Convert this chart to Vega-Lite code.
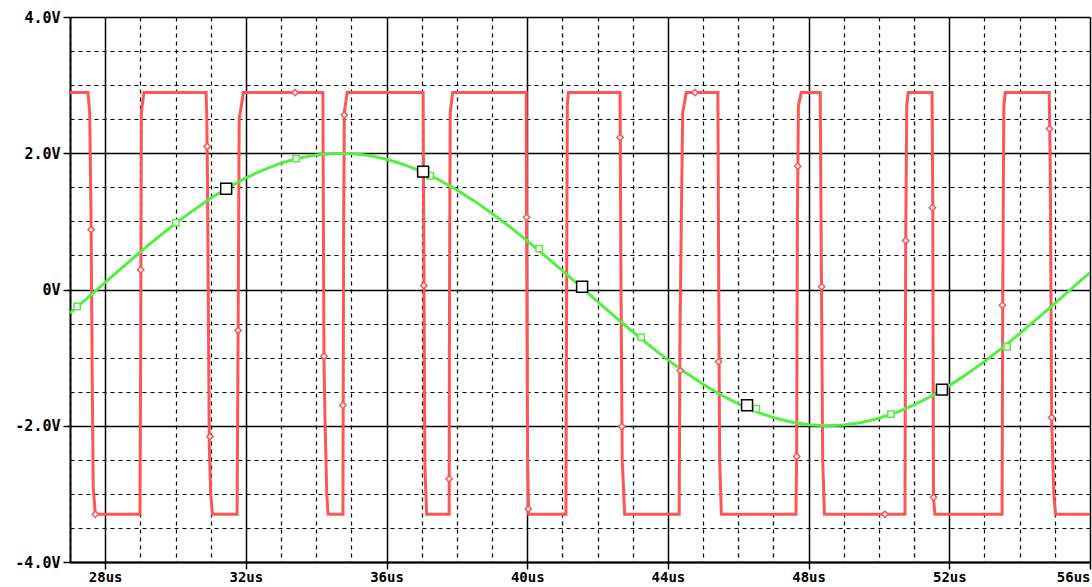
{
  "$schema": "https://vega.github.io/schema/vega-lite/v6.json",
  "width": 1020,
  "height": 545,
  "autosize": {"type": "none"},
  "padding": {"left": 70, "top": 17, "right": 2, "bottom": 25},
  "background": "white",
  "config": {"view": {"stroke": null}},
  "datasets": {
    "red": [
      {"t":27.00,"v":2.89},{"t":27.51,"v":2.89},{"t":27.56,"v":2.6},{"t":27.60,"v":1.0},{"t":27.63,"v":-1.2},{"t":27.66,"v":-2.9},{"t":27.72,"v":-3.3},
      {"t":28.99,"v":-3.3},{"t":29.01,"v":-0.8},{"t":29.03,"v":2.6},{"t":29.10,"v":2.89},
      {"t":30.87,"v":2.89},{"t":30.89,"v":2.5},{"t":30.91,"v":1.5},{"t":30.96,"v":-2.3},{"t":31.00,"v":-3.0},{"t":31.05,"v":-3.3},
      {"t":31.75,"v":-3.3},{"t":31.78,"v":-0.6},{"t":31.81,"v":2.5},{"t":31.93,"v":2.89},
      {"t":34.19,"v":2.89},{"t":34.22,"v":-1.0},{"t":34.25,"v":-1.9},{"t":34.30,"v":-3.0},{"t":34.34,"v":-3.3},
      {"t":34.76,"v":-3.3},{"t":34.78,"v":1.0},{"t":34.80,"v":2.6},{"t":34.88,"v":2.89},
      {"t":37.04,"v":2.89},{"t":37.06,"v":0.5},{"t":37.09,"v":-2.6},{"t":37.14,"v":-3.3},
      {"t":37.78,"v":-3.3},{"t":37.79,"v":0.0},{"t":37.81,"v":2.6},{"t":37.88,"v":2.89},
      {"t":39.97,"v":2.89},{"t":39.98,"v":1.0},{"t":40.01,"v":-2.5},{"t":40.04,"v":-3.3},
      {"t":41.10,"v":-3.3},{"t":41.12,"v":0.0},{"t":41.14,"v":2.7},{"t":41.17,"v":2.89},
      {"t":42.64,"v":2.89},{"t":42.66,"v":0.5},{"t":42.70,"v":-2.5},{"t":42.77,"v":-3.3},
      {"t":44.32,"v":-3.3},{"t":44.34,"v":-0.8},{"t":44.38,"v":1.0},{"t":44.42,"v":2.6},{"t":44.52,"v":2.89},
      {"t":45.42,"v":2.89},{"t":45.44,"v":0.5},{"t":45.47,"v":-2.5},{"t":45.52,"v":-3.3},
      {"t":47.64,"v":-3.3},{"t":47.66,"v":-2.4},{"t":47.68,"v":1.0},{"t":47.71,"v":2.7},{"t":47.79,"v":2.89},
      {"t":48.33,"v":2.89},{"t":48.36,"v":0.5},{"t":48.40,"v":-2.5},{"t":48.45,"v":-3.3},
      {"t":50.74,"v":-3.3},{"t":50.76,"v":0.7},{"t":50.79,"v":2.7},{"t":50.83,"v":2.89},
      {"t":51.51,"v":2.89},{"t":51.53,"v":1.2},{"t":51.55,"v":-3.05},{"t":51.59,"v":-3.3},
      {"t":53.50,"v":-3.3},{"t":53.52,"v":0.0},{"t":53.55,"v":2.7},{"t":53.59,"v":2.89},
      {"t":54.84,"v":2.89},{"t":54.87,"v":1.8},{"t":54.91,"v":-1.9},{"t":54.97,"v":-3.0},{"t":55.02,"v":-3.3},
      {"t":56.00,"v":-3.3}
    ],
    "green": [
      {"t":27.0,"v":-0.348},{"t":27.5,"v":-0.123},{"t":28.0,"v":0.104},{"t":28.5,"v":0.330},
      {"t":29.0,"v":0.551},{"t":29.5,"v":0.765},{"t":30.0,"v":0.970},{"t":30.5,"v":1.161},
      {"t":31.0,"v":1.338},{"t":31.5,"v":1.498},{"t":32.0,"v":1.638},{"t":32.5,"v":1.757},
      {"t":33.0,"v":1.854},{"t":33.5,"v":1.928},{"t":34.0,"v":1.976},{"t":34.5,"v":1.998},
      {"t":35.0,"v":1.995},{"t":35.5,"v":1.966},{"t":36.0,"v":1.912},{"t":36.5,"v":1.833},
      {"t":37.0,"v":1.732},{"t":37.5,"v":1.607},{"t":38.0,"v":1.462},{"t":38.5,"v":1.297},
      {"t":39.0,"v":1.116},{"t":39.5,"v":0.922},{"t":40.0,"v":0.715},{"t":40.5,"v":0.498},
      {"t":41.0,"v":0.276},{"t":41.5,"v":0.050},{"t":42.0,"v":-0.177},{"t":42.5,"v":-0.401},
      {"t":43.0,"v":-0.621},{"t":43.5,"v":-0.832},{"t":44.0,"v":-1.033},{"t":44.5,"v":-1.220},
      {"t":45.0,"v":-1.392},{"t":45.5,"v":-1.545},{"t":46.0,"v":-1.680},{"t":46.5,"v":-1.792},
      {"t":47.0,"v":-1.881},{"t":47.5,"v":-1.945},{"t":48.0,"v":-1.985},{"t":48.5,"v":-2.000},
      {"t":49.0,"v":-1.988},{"t":49.5,"v":-1.952},{"t":50.0,"v":-1.890},{"t":50.5,"v":-1.804},
      {"t":51.0,"v":-1.694},{"t":51.5,"v":-1.563},{"t":52.0,"v":-1.411},{"t":52.5,"v":-1.241},
      {"t":53.0,"v":-1.056},{"t":53.5,"v":-0.856},{"t":54.0,"v":-0.647},{"t":54.5,"v":-0.427},
      {"t":55.0,"v":-0.203},{"t":55.5,"v":0.023},{"t":56.0,"v":0.249}
    ],
    "redMarks": [
      {"t":27.60,"v":0.88},{"t":27.72,"v":-3.30},{"t":29.01,"v":0.29},{"t":30.90,"v":2.10},
      {"t":30.98,"v":-2.16},{"t":31.78,"v":-0.60},{"t":33.40,"v":2.89},{"t":34.22,"v":-0.98},
      {"t":34.76,"v":-1.70},{"t":34.80,"v":2.56},{"t":37.06,"v":0.06},{"t":37.78,"v":-2.78},
      {"t":39.98,"v":1.06},{"t":40.03,"v":-3.22},{"t":42.64,"v":2.23},{"t":42.69,"v":-2.01},
      {"t":44.35,"v":-1.19},{"t":44.77,"v":2.89},{"t":45.44,"v":-1.06},{"t":47.66,"v":-2.45},
      {"t":47.69,"v":1.81},{"t":48.37,"v":0.04},{"t":50.17,"v":-3.30},{"t":50.76,"v":0.72},
      {"t":51.52,"v":1.20},{"t":51.55,"v":-3.05},{"t":53.51,"v":-0.23},{"t":54.85,"v":2.36},
      {"t":54.91,"v":-1.88}
    ],
    "greenMarks": [
      {"t":27.20,"v":-0.25},{"t":30.01,"v":0.98},{"t":33.43,"v":1.92},{"t":37.24,"v":1.67},
      {"t":40.34,"v":0.60},{"t":43.24,"v":-0.70},{"t":46.51,"v":-1.75},{"t":50.34,"v":-1.83},
      {"t":53.64,"v":-0.84}
    ],
    "cursorMarks": [
      {"t":31.44,"v":1.48},{"t":37.04,"v":1.73},{"t":41.56,"v":0.04},{"t":46.25,"v":-1.70},
      {"t":51.79,"v":-1.47}
    ]
  },
  "encoding": {
    "x": {
      "field": "t",
      "type": "quantitative",
      "scale": {"domain": [27, 56], "nice": false, "zero": false},
      "axis": {
        "title": null,
        "values": [27,28,29,30,31,32,33,34,35,36,37,38,39,40,41,42,43,44,45,46,47,48,49,50,51,52,53,54,55,56],
        "labelExpr": "datum.value % 4 === 0 ? datum.value + 'us' : ''",
        "grid": true,
        "gridColor": "#000000",
        "gridDash": {"condition": {"test": "datum.value % 4 === 0", "value": []}, "value": [4, 4]},
        "gridWidth": {"condition": {"test": "datum.value % 4 === 0", "value": 1.5}, "value": 1.2},
        "tickOpacity": {"condition": {"test": "datum.value % 4 === 0", "value": 1}, "value": 0},
        "tickColor": "#000000",
        "tickSize": 7,
        "tickWidth": 1.5,
        "domainColor": "#000000",
        "domainWidth": 2,
        "labelFont": "DejaVu Sans Mono",
        "labelFontSize": 14,
        "labelFontWeight": "bold",
        "labelColor": "#000000",
        "labelPadding": 1,
        "labelFlush": true,
        "labelOverlap": false
      }
    },
    "y": {
      "field": "v",
      "type": "quantitative",
      "scale": {"domain": [-4, 4], "nice": false, "zero": false},
      "axis": {
        "title": null,
        "values": [-4,-3.5,-3,-2.5,-2,-1.5,-1,-0.5,0,0.5,1,1.5,2,2.5,3,3.5,4],
        "labelExpr": "datum.value % 2 === 0 ? (datum.value === 0 ? '0V' : datum.value + '.0V') : ''",
        "grid": true,
        "gridColor": "#000000",
        "gridDash": {"condition": {"test": "datum.value % 2 === 0", "value": []}, "value": [4, 4]},
        "gridWidth": {"condition": {"test": "datum.value % 2 === 0", "value": 1.5}, "value": 1.2},
        "tickOpacity": {"condition": {"test": "datum.value % 2 === 0", "value": 1}, "value": 0},
        "tickColor": "#000000",
        "tickSize": 7,
        "tickWidth": 1.5,
        "domainColor": "#000000",
        "domainWidth": 2,
        "labelFont": "DejaVu Sans Mono",
        "labelFontSize": 15,
        "labelFontWeight": "bold",
        "labelColor": "#000000",
        "labelPadding": 3,
        "labelFlush": false,
        "labelOverlap": false
      }
    }
  },
  "layer": [
    {
      "data": {"name": "red"},
      "mark": {"type": "line", "color": "#ff5555", "strokeWidth": 3, "clip": true}
    },
    {
      "data": {"name": "green"},
      "mark": {"type": "line", "color": "#55ee44", "strokeWidth": 3, "clip": true}
    },
    {
      "data": {"name": "redMarks"},
      "mark": {"type": "point", "shape": "diamond", "filled": true, "fill": "#ffffff", "stroke": "#ff5555", "strokeWidth": 1.5, "size": 40, "opacity": 1}
    },
    {
      "data": {"name": "greenMarks"},
      "mark": {"type": "point", "shape": "square", "filled": true, "fill": "#ffffff", "stroke": "#55ee44", "strokeWidth": 1.5, "size": 40, "opacity": 1}
    },
    {
      "data": {"name": "cursorMarks"},
      "mark": {"type": "point", "shape": "square", "filled": true, "fill": "#ffffff", "stroke": "#000000", "strokeWidth": 1.5, "size": 120, "opacity": 1}
    }
  ]
}
